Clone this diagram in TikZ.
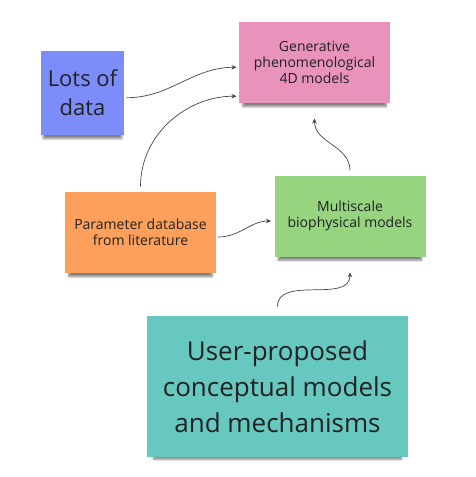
\documentclass[tikz,border=0pt]{standalone}
\usepackage{fontspec}
\setmainfont{Open Sans}
\usetikzlibrary{arrows.meta,positioning,shadows.blur}

\definecolor{datablue}{HTML}{7C8CF8}
\definecolor{phenopink}{HTML}{E992BB}
\definecolor{paramorange}{HTML}{FDA05B}
\definecolor{biogreen}{HTML}{96D47F}
\definecolor{userteal}{HTML}{67C8BF}
\definecolor{notetext}{HTML}{222222}
\definecolor{linkgray}{HTML}{444444}

\begin{document}
\begin{tikzpicture}[
  x=1pt, y=1pt,
  note/.style={rectangle, inner sep=2pt, align=center, text=notetext,
    blur shadow={shadow xshift=0pt, shadow yshift=-6pt, shadow opacity=50, shadow scale=0.95, shadow blur steps=8}},
  small note/.style={note, minimum width=151pt, minimum height=81pt, font=\fontsize{14}{16}\selectfont},
  link/.style={-{Stealth[length=5pt,width=4.5pt]}, line width=0.7pt, draw=linkgray}
]
\useasboundingbox (0,0) rectangle (475,-477);

\node[small note, fill=paramorange] (params) at (140.5,-232.5) {Parameter database\\from literature};
\node[small note, fill=biogreen, right of=params, node distance=209.5pt, yshift=16.5pt] (bio) {Multiscale\\biophysical models};
\node[small note, fill=phenopink, above of=bio, node distance=153.5pt, xshift=-35.5pt] (pheno) {Generative\\phenomenological\\4D models};
\node[note, fill=datablue, minimum width=83pt, minimum height=84pt, font=\fontsize{22}{29}\selectfont] (data) at (82.5,-93) {Lots of\\data};
\node[note, fill=userteal, minimum width=261pt, minimum height=141pt, font=\fontsize{26}{36}\selectfont] (user) at (277.5,-386.5) {User-proposed\\conceptual models\\and mechanisms};

\draw[link, shorten <=2.5pt, shorten >=2.3pt] ([yshift=-4.7pt]data.east) to[out=0,in=180] ([yshift=-4.8pt]pheno.west);
\draw[link, shorten >=2.3pt] ([yshift=5.3pt]params.north) to[out=90,in=180] ([yshift=7pt]pheno.south west);
\draw[link, shorten <=2pt, shorten >=3.3pt] ([yshift=-4.5pt]params.east) to[out=0,in=180] ([yshift=-5pt]bio.west);
\draw[link] ([yshift=5pt]bio.north) to[out=90,in=-90] ([yshift=-15.3pt]pheno.south);
\draw[link] ([yshift=9.3pt]user.north) to[out=90,in=-90] ([yshift=-15.7pt]bio.south);
\end{tikzpicture}
\end{document}
